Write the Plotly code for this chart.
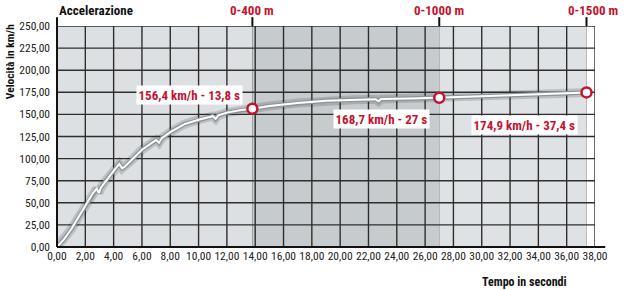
import plotly.graph_objects as go

# Data
tempo = [0, 0.5, 1, 1.5, 2, 2.5, 2.8, 2.95, 3.1, 3.5, 4, 4.4, 4.6, 4.8, 5.2, 6, 7, 7.2, 7.4, 8, 9, 10,
         11, 11.2, 11.4, 12, 13, 13.8, 15, 17, 19, 21, 22.5, 22.7, 22.9, 25, 27, 30, 33, 35, 37.4]
velocita = [0, 9, 20, 33, 47, 60, 66, 61, 67, 76, 86, 94, 89, 91, 97, 110, 121, 118, 123, 130, 139, 144,
            148, 145, 149, 152, 155, 156.4, 159.5, 163, 165.5, 166.5, 167.2, 164.8, 167.3, 168, 168.7,
            170.5, 172.3, 173.5, 174.9]

tappe_nomi = ["0-400 m", "0-1000 m", "0-1500 m"]
tappe_tempo = [13.8, 27, 37.4]
tappe_vel = [156.4, 168.7, 174.9]
tappe_label = ["156,4 km/h - 13,8 s", "168,7 km/h - 27 s", "174,9 km/h - 37,4 s"]

x_ticks = list(range(0, 39, 2))
x_ticktext = [f"{v:.2f}".replace(".", ",") for v in x_ticks]
y_ticks = list(range(0, 251, 25))
y_ticktext = [f"{v:.2f}".replace(".", ",") for v in y_ticks]

RED = "#c4122f"
FONT = "Liberation Sans Narrow, Roboto Condensed, Roboto, sans-serif"
GRID = "#2e2e2e"

fig = go.Figure()

# curve: shadow, outline, white core
fig.add_trace(go.Scatter(x=tempo, y=velocita, mode="lines",
                         line=dict(color="rgba(40,40,40,0.18)", width=9), hoverinfo="skip"))
fig.add_trace(go.Scatter(x=tempo, y=velocita, mode="lines",
                         line=dict(color="#8c9499", width=4.5), hoverinfo="skip"))
fig.add_trace(go.Scatter(x=tempo, y=velocita, mode="lines",
                         line=dict(color="white", width=2), hoverinfo="skip"))
fig.add_trace(go.Scatter(x=tappe_tempo, y=tappe_vel, mode="markers",
                         marker=dict(size=10, color="white", line=dict(color=RED, width=2.5)),
                         hoverinfo="skip"))

# background bands
bounds = [0] + tappe_tempo + [38]
band_colors = ["#dde0e2", "#c6cbce", "#dfe2e4", "#ffffff"]
for i, c in enumerate(band_colors):
    fig.add_shape(type="rect", xref="x", yref="y", x0=bounds[i], x1=bounds[i + 1], y0=0, y1=250,
                  fillcolor=c, line_width=0, layer="below")

# grid lines
for xv in x_ticks[1:]:
    fig.add_shape(type="line", xref="x", yref="y", x0=xv, x1=xv, y0=0, y1=250,
                  line=dict(color=GRID, width=1.4), layer="between")
for yv in y_ticks[1:]:
    fig.add_shape(type="line", xref="x", yref="y", x0=0, x1=38, y0=yv, y1=yv,
                  line=dict(color=GRID, width=1.4), layer="between")

# milestone vertical lines
for t in tappe_tempo:
    fig.add_shape(type="line", xref="x", yref="paper", x0=t, x1=t, y0=0, y1=1.04,
                  line=dict(color="#111111", width=2), layer="between")

# axis lines extended
fig.add_shape(type="line", xref="paper", yref="paper", x0=0, x1=1.019, y0=0, y1=0,
              line=dict(color="#111111", width=2))
fig.add_shape(type="line", xref="paper", yref="paper", x0=0, x1=0, y0=0, y1=1.04,
              line=dict(color="#111111", width=2))

# milestone titles
title_x = [13.8, 27, 37.85]
for name, t in zip(tappe_nomi, title_x):
    fig.add_annotation(x=t, y=1.072, xref="x", yref="paper", text=f"<b>{name}</b>",
                       showarrow=False, yanchor="middle", font=dict(family=FONT, size=13, color=RED))

# value labels
label_pos = [(13.15, 171.9), (26.35, 144.7), (36.79, 137.9)]
for (lx, ly), txt in zip(label_pos, tappe_label):
    fig.add_annotation(x=lx, y=ly, xref="x", yref="y", text=f"<b>{txt}</b>", showarrow=False,
                       bgcolor="white", borderpad=1.5, xanchor="right", yanchor="middle",
                       font=dict(family=FONT, size=13, color=RED))

fig.add_annotation(x=0, y=1.072, xref="paper", yref="paper", text="<b>Accelerazione</b>",
                   showarrow=False, xanchor="left", yanchor="middle",
                   font=dict(family=FONT, size=13, color="#111111"))
fig.add_annotation(x=-0.087, y=0.837, xref="paper", yref="paper", text="<b>Velocità in km/h</b>",
                   showarrow=False, textangle=-90, xanchor="center", yanchor="middle",
                   font=dict(family=FONT, size=11.5, color="#111111"))
fig.add_annotation(x=0.951, y=-0.16, xref="paper", yref="paper", text="<b>Tempo in secondi</b>",
                   showarrow=False, xanchor="right", yanchor="middle",
                   font=dict(family=FONT, size=12, color="#111111"))

fig.update_xaxes(range=[0, 38], tickvals=x_ticks, ticktext=x_ticktext, showgrid=False,
                 zeroline=False, showline=False,
                 ticks="", tickfont=dict(family=FONT, size=11.5, color="#222222"))
fig.update_yaxes(range=[0, 250], tickvals=y_ticks, ticktext=y_ticktext, showgrid=False,
                 zeroline=False, showline=False,
                 ticks="", ticklabelstandoff=6, tickfont=dict(family=FONT, size=11.5, color="#222222"))

fig.update_layout(width=630, height=290, margin=dict(l=57, r=35, t=26, b=43),
                  paper_bgcolor="white", plot_bgcolor="white", showlegend=False)

fig.write_html("out.html")
